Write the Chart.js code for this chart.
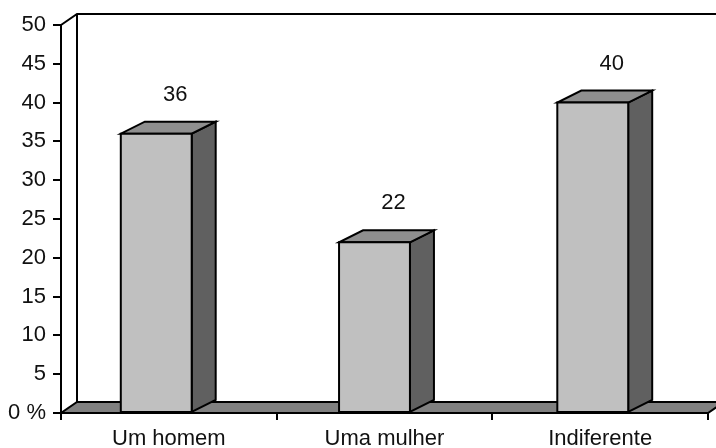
<!DOCTYPE html>
<html>
<head>
<meta charset="utf-8">
<script src="https://cdn.jsdelivr.net/npm/chart.js@4"></script>
<style>
  html, body { margin: 0; padding: 0; background: #fff; }
  canvas { display: block; }
</style>
</head>
<body>
<canvas id="chart" width="716" height="448"></canvas>
<script>
const categories = ['Um homem', 'Uma mulher', 'Indiferente'];
const values = [36, 22, 40];
const tickLabels = ['0 %', '5', '10', '15', '20', '25', '30', '35', '40', '45', '50'];

const FONT = '"Liberation Sans", Arial, sans-serif';

// profundidade do efeito 3D (parede/piso e barras)
const wallDX = 16, wallDY = 11;
const barDX = 24, barDY = 12;
const perspective = 0.012; // leve deslocamento das barras conforme a distância do centro

const colors = {
    front: '#c0c0c0',
    top: '#8f8f8f',
    side: '#606060',
    floor: '#808080'
};

function poly(ctx, pts, fill) {
    ctx.beginPath();
    ctx.moveTo(pts[0][0], pts[0][1]);
    for (let i = 1; i < pts.length; i++) ctx.lineTo(pts[i][0], pts[i][1]);
    ctx.closePath();
    if (fill) { ctx.fillStyle = fill; ctx.fill(); }
    ctx.stroke();
}

// desenha parede, piso e as barras em 3D a partir dos elementos do Chart.js
const fake3d = {
    id: 'fake3d',
    afterDatasetsDraw(chart) {
        const ctx = chart.ctx;
        const a = chart.chartArea;
        const mid = (a.left + a.right) / 2;
        ctx.save();
        ctx.lineWidth = 2;
        ctx.strokeStyle = '#000';
        ctx.lineJoin = 'miter';

        // parede do fundo
        ctx.beginPath();
        ctx.moveTo(a.left, a.top);
        ctx.lineTo(a.left + wallDX, a.top - wallDY);
        ctx.lineTo(a.right + wallDX + 20, a.top - wallDY);
        ctx.moveTo(a.left + wallDX, a.top - wallDY);
        ctx.lineTo(a.left + wallDX, a.bottom - wallDY);
        ctx.stroke();

        // piso
        poly(ctx, [
            [a.left, a.bottom], [a.right, a.bottom],
            [a.right + wallDX, a.bottom - wallDY], [a.left + wallDX, a.bottom - wallDY]
        ], colors.floor);

        const meta = chart.getDatasetMeta(0);
        meta.data.forEach((el, i) => {
            const p = el.getProps(['x', 'y', 'base', 'width'], true);
            const shift = 2 + (p.x - mid) * perspective;
            const L = p.x - p.width / 2 + shift;
            const R = L + p.width - barDX;
            const T = p.y, B = p.base;

            poly(ctx, [[R, T], [R + barDX, T - barDY], [R + barDX, B - barDY], [R, B]], colors.side);
            poly(ctx, [[L, T], [R, T], [R + barDX, T - barDY], [L + barDX, T - barDY]], colors.top);
            poly(ctx, [[L, T], [R, T], [R, B], [L, B]], colors.front);

            ctx.fillStyle = '#111';
            ctx.font = '22px ' + FONT;
            ctx.textAlign = 'center';
            ctx.textBaseline = 'middle';
            ctx.fillText(String(values[i]), p.x + 7 + shift, T - 39);
        });
        ctx.restore();
    }
};

const ctx = document.getElementById('chart').getContext('2d');

new Chart(ctx, {
    type: 'bar',
    data: {
        labels: categories,
        datasets: [{
            data: values,
            backgroundColor: 'rgba(0,0,0,0)',
            borderWidth: 0,
            categoryPercentage: 1,
            barPercentage: 0.44
        }]
    },
    options: {
        responsive: false,
        animation: false,
        layout: { padding: { top: 25, right: 8, left: 0, bottom: 0 } },
        plugins: {
            legend: { display: false },
            tooltip: { enabled: false }
        },
        scales: {
            x: {
                grid: {
                    offset: true,
                    drawOnChartArea: false,
                    drawTicks: true,
                    tickLength: 7,
                    color: '#000',
                    lineWidth: 2
                },
                border: { display: true, color: '#000', width: 2 },
                ticks: {
                    color: '#111',
                    padding: 6,
                    font: { family: FONT, size: 22 },
                    maxRotation: 0
                },
                afterFit(scale) { scale.height = 35; }
            },
            y: {
                min: 0,
                max: 50,
                ticks: {
                    stepSize: 5,
                    color: '#111',
                    padding: 7,
                    font: { family: FONT, size: 22 },
                    callback: (v, i) => tickLabels[i]
                },
                grid: {
                    drawOnChartArea: false,
                    drawTicks: true,
                    tickLength: 8,
                    color: '#000',
                    lineWidth: 2
                },
                border: { display: true, color: '#000', width: 2 },
                afterFit(scale) { scale.width = 61; }
            }
        }
    },
    plugins: [fake3d]
});
</script>
</body>
</html>
